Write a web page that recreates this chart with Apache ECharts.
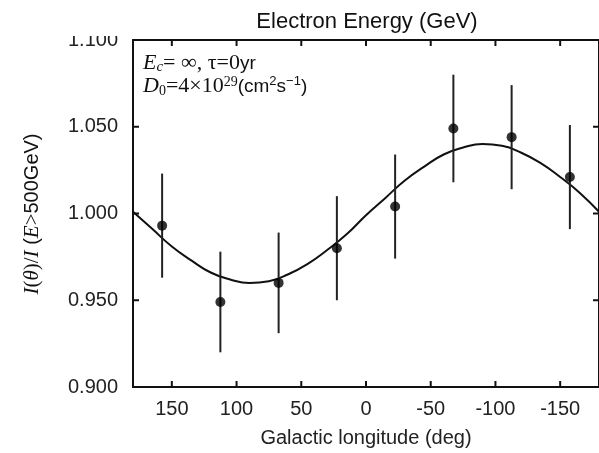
<!DOCTYPE html>
<html>
<head>
<meta charset="utf-8">
<script src="https://cdn.jsdelivr.net/npm/echarts@6/dist/echarts.min.js"></script>
<style>html,body{margin:0;padding:0;background:#fff;}#c{width:599px;height:453px;}</style>
</head>
<body>
<div id="c"></div>
<script>
// Data points (bin centres, galactic longitude in degrees)
const pointLon = [157.5, 112.5, 67.5, 22.5, -22.5, -67.5, -112.5, -157.5];
const pointVal = [0.993, 0.949, 0.960, 0.980, 1.004, 1.049, 1.044, 1.021];
const pointErr = [0.030, 0.029, 0.029, 0.030, 0.030, 0.031, 0.030, 0.030];
// Model curve
const curveLon = [180, 165, 150, 135, 120, 105, 90, 75, 60, 45, 30, 15, 0, -15, -30, -45, -60, -75, -90, -105, -120, -135, -150, -165, -180];
const curveVal = [1.001, 0.991, 0.981, 0.973, 0.966, 0.962, 0.960, 0.961, 0.965, 0.971, 0.979, 0.988, 0.999, 1.009, 1.019, 1.027, 1.034, 1.038, 1.040, 1.039, 1.035, 1.029, 1.021, 1.012, 1.001];
// Tick labels
const xTicks = [150, 100, 50, 0, -50, -100, -150];
const yTicks = [0.950, 1.000, 1.050];
const yLabels = [0.900, 0.950, 1.000, 1.050, 1.100];
const xMin = -180, xMax = 180, yMin = 0.9, yMax = 1.1;

const chart = echarts.init(document.getElementById('c'), null, {renderer: 'canvas'});
const sans = 'Liberation Sans, Arial, Helvetica, sans-serif';
const serif = 'Liberation Serif, Times New Roman, serif';
const axisLine = {show: true, onZero: false, lineStyle: {color: '#111', width: 2}};
const TICK = 6;

const curveData = curveLon.map((l, i) => [l, curveVal[i]]);
const pointData = pointLon.map((l, i) => [l, pointVal[i]]);
const errData = pointLon.map((l, i) => [l, pointVal[i] - pointErr[i], pointVal[i] + pointErr[i]]);

// one tick series per frame side; each item is a single line drawn through the axis scale
function tickSeries(data, side) {
  return {
    type: 'custom', data: data, z: 6, clip: false,
    renderItem: function (params, api) {
      const p = api.coord([api.value(0), api.value(1)]);
      let x2 = p[0], y2 = p[1];
      if (side === 'bottom') y2 -= TICK;
      if (side === 'top') y2 += TICK;
      if (side === 'left') x2 += TICK;
      if (side === 'right') x2 -= TICK;
      return {type: 'line', shape: {x1: p[0], y1: p[1], x2: x2, y2: y2},
        style: {stroke: '#111', lineWidth: 2}};
    }
  };
}

chart.setOption({
  animation: false,
  backgroundColor: '#fff',
  title: {
    text: 'Electron Energy (GeV)',
    left: 362, top: 6, textAlign: 'center',
    textStyle: {fontFamily: sans, fontSize: 22, fontWeight: 'normal', color: '#111'}
  },
  grid: {left: 133, top: 40, right: -2, bottom: 66},
  xAxis: [{
    type: 'value', min: xMin, max: xMax, inverse: true, position: 'bottom',
    axisLine: axisLine,
    axisTick: {show: false},
    axisLabel: {customValues: xTicks, margin: 12, fontFamily: sans, fontSize: 20, color: '#222'},
    splitLine: {show: false},
    name: 'Galactic longitude (deg)', nameLocation: 'middle', nameGap: 41,
    nameTextStyle: {fontFamily: sans, fontSize: 20, color: '#222'}
  }, {
    type: 'value', min: xMin, max: xMax, inverse: true, position: 'top',
    axisLine: axisLine, axisTick: {show: false}, axisLabel: {show: false}, splitLine: {show: false}
  }],
  yAxis: [{
    type: 'value', min: yMin, max: yMax, interval: 0.05, position: 'left',
    axisLine: axisLine,
    axisTick: {show: false},
    axisLabel: {customValues: yLabels, margin: 15, fontFamily: sans, fontSize: 20, color: '#222', formatter: v => v.toFixed(3)},
    splitLine: {show: false}
  }, {
    type: 'value', min: yMin, max: yMax, interval: 0.05, position: 'right',
    axisLine: axisLine, axisTick: {show: false}, axisLabel: {show: false}, splitLine: {show: false}
  }],
  series: [
    tickSeries(xTicks.map(v => [v, yMin]), 'bottom'),
    tickSeries(xTicks.map(v => [v, yMax]), 'top'),
    tickSeries(yTicks.map(v => [xMax, v]), 'left'),
    tickSeries(yTicks.map(v => [xMin, v]), 'right'),
  {
    type: 'line', data: curveData, smooth: true, symbol: 'none',
    lineStyle: {color: '#111', width: 2}, z: 2
  }, {
    type: 'custom', data: errData, z: 3,
    renderItem: function (params, api) {
      const x = api.value(0);
      const p1 = api.coord([x, api.value(1)]);
      const p2 = api.coord([x, api.value(2)]);
      return {type: 'line', shape: {x1: p1[0], y1: p1[1], x2: p2[0], y2: p2[1]},
        style: {stroke: '#222', lineWidth: 2}};
    }
  }, {
    type: 'scatter', data: pointData, symbol: 'circle', symbolSize: 10,
    itemStyle: {color: '#000'}, z: 4
  }],
  graphic: [{
    type: 'rect', left: 55, top: 0, shape: {width: 72, height: 36}, style: {fill: '#fff'}, z: 100
  }, {
    type: 'text', x: 143, y: 52, z: 101,
    style: {
      text: '{i|E}{subi|c}{s|= ∞, τ=0}{ss|yr}\n{i|D}{sub|0}{s|=4×10}{sup|29}{ss|(cm}{sup2|2}{ss|s}{sup2|−1}{ss|)}',
      rich: {
        i: {fontFamily: serif, fontStyle: 'italic', fontSize: 22, lineHeight: 23, fill: '#111', verticalAlign: 'middle'},
        s: {fontFamily: serif, fontSize: 22, lineHeight: 23, fill: '#111', verticalAlign: 'middle'},
        ss: {fontFamily: sans, fontSize: 19, lineHeight: 23, fill: '#111', verticalAlign: 'middle'},
        sub: {fontFamily: serif, fontSize: 14, lineHeight: 13, fill: '#111', verticalAlign: 'bottom'},
        subi: {fontFamily: serif, fontStyle: 'italic', fontSize: 15, lineHeight: 13, fill: '#111', verticalAlign: 'bottom'},
        sup: {fontFamily: serif, fontSize: 14, lineHeight: 13, fill: '#111', verticalAlign: 'top'},
        sup2: {fontFamily: sans, fontSize: 13, lineHeight: 13, fill: '#111', verticalAlign: 'top'}
      }
    }
  }, {
    type: 'text', x: 32, y: 214, rotation: Math.PI / 2, z: 101,
    style: {
      text: '{i|I}{s|(}{i|θ}{s|)/}{i|I}{ss| (}{i|E}{s|>}{ss|500GeV)}',
      align: 'center', verticalAlign: 'middle',
      rich: {
        i: {fontFamily: serif, fontStyle: 'italic', fontSize: 21, fill: '#111'},
        s: {fontFamily: serif, fontSize: 21, fill: '#111'},
        ss: {fontFamily: sans, fontSize: 20, fill: '#111'}
      }
    }
  }]
});
</script>
</body>
</html>
